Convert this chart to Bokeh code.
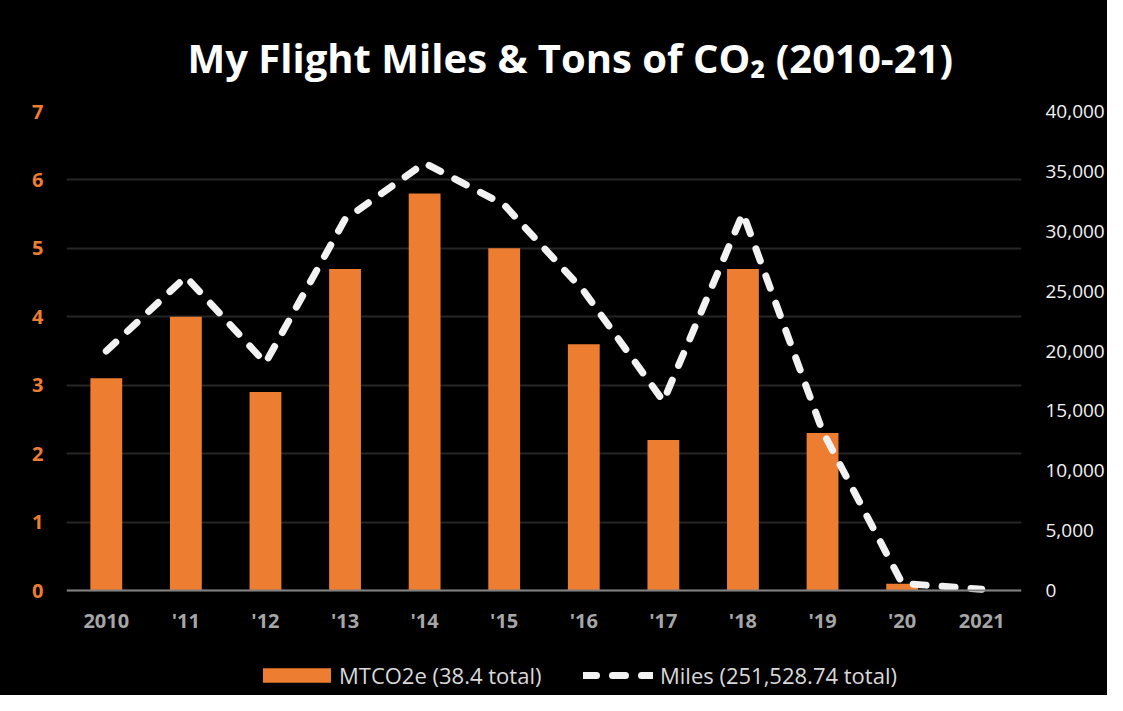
from bokeh.plotting import figure
from bokeh.models import (Range1d, FactorRange, LinearAxis, Legend, LegendItem,
                          NumeralTickFormatter, FixedTicker, ColumnDataSource)
from bokeh.embed import file_html
from bokeh.resources import INLINE

years = ["2010", "'11", "'12", "'13", "'14", "'15", "'16", "'17", "'18", "'19", "'20", "2021"]
co2 = [3.1, 4.0, 2.9, 4.7, 5.8, 5.0, 3.6, 2.2, 4.7, 2.3, 0.1, 0.0]
miles = [20000, 26200, 19000, 31000, 35700, 32200, 25000, 15800, 31500, 13300, 600, 100]
left_ticks = [0, 1, 2, 3, 4, 5, 6, 7]
right_ticks = [0, 5000, 10000, 15000, 20000, 25000, 30000, 35000, 40000]
title_text = "My Flight Miles & Tons of CO\u2082 (2010-21)"
bar_label = "MTCO2e (38.4 total)"
line_label = "Miles (251,528.74 total)"

ORANGE = "#ED7D31"

# layout: value area 479 px tall, with 105 px of frame kept below zero for axis labels + legend
PLOT_PX = 479.0
BELOW_PX = 105.0
left_max, right_max = 7.0, 40000.0
left_min = -left_max * BELOW_PX / PLOT_PX
right_min = -right_max * BELOW_PX / PLOT_PX

src = ColumnDataSource(data=dict(year=years, co2=co2, miles=miles))

p = figure(x_range=FactorRange(*years), y_range=Range1d(left_min, left_max),
           width=1107, height=695, output_backend="svg", toolbar_location=None,
           background_fill_color="black", border_fill_color="black",
           outline_line_color=None,
           min_border_left=66, min_border_right=81, min_border_top=111, min_border_bottom=0)
p.styles = {"background-color": "black"}
p.extra_y_ranges = {"miles": Range1d(right_min, right_max)}

p.title.text = title_text
p.title.align = "left"
p.title.text_color = "white"
p.title.text_font = "Open Sans"
p.title.text_font_style = "bold"
p.title.text_font_size = "40px"
p.title.offset = 121
p.title.standoff = 53

bars = p.vbar(x="year", top="co2", width=0.4, source=src, color=ORANGE, line_color=None)
line = p.line(x="year", y="miles", source=src, y_range_name="miles",
              line_color="#F2F2F2", line_width=7, line_dash="13 16", line_cap="round")

# left axis
ya = p.yaxis[0]
ya.ticker = FixedTicker(ticks=left_ticks)
ya.axis_line_color = None
ya.major_tick_line_color = None
ya.minor_tick_line_color = None
ya.major_label_text_color = ORANGE
ya.major_label_text_font = "Open Sans"
ya.major_label_text_font_style = "bold"
ya.major_label_text_font_size = "20px"
ya.major_label_standoff = 17

# right axis
ra = LinearAxis(y_range_name="miles", ticker=FixedTicker(ticks=right_ticks),
                formatter=NumeralTickFormatter(format="0,0"))
ra.axis_line_color = None
ra.major_tick_line_color = None
ra.minor_tick_line_color = None
ra.major_label_text_color = "#F2F2F2"
ra.major_label_text_font = "Open Sans"
ra.major_label_text_font_size = "19px"
ra.major_label_standoff = 18
p.add_layout(ra, "right")

# x axis, drawn at zero inside the frame
xa = p.xaxis[0]
xa.fixed_location = 0
xa.axis_line_color = "#808080"
xa.axis_line_width = 2
xa.major_tick_line_color = None
xa.minor_tick_line_color = None
xa.major_label_text_color = "#A6A6A6"
xa.major_label_text_font = "Open Sans"
xa.major_label_text_font_style = "bold"
xa.major_label_text_font_size = "20px"
xa.major_label_standoff = 10

p.xgrid.grid_line_color = None
p.ygrid.grid_line_color = "#262626"
p.ygrid.grid_line_width = 2


def style_legend(lg, glyph_w, standoff):
    lg.background_fill_alpha = 0
    lg.border_line_color = None
    lg.label_text_color = "#D9D9D9"
    lg.label_text_font = "Open Sans"
    lg.label_text_font_size = "22px"
    lg.glyph_width = glyph_w
    lg.glyph_height = 18
    lg.label_standoff = standoff
    lg.padding = 0
    lg.margin = 0


legend_bar = Legend(items=[LegendItem(label=bar_label, renderers=[bars])],
                    orientation="horizontal", location=(188, 5))
style_legend(legend_bar, 85, 0)
legend_line = Legend(items=[LegendItem(label=line_label, renderers=[line])],
                     orientation="horizontal", location=(517, 5))
style_legend(legend_line, 70, 7)
p.add_layout(legend_bar)
p.add_layout(legend_line)

open("out.html", "w").write(file_html(p, INLINE))
